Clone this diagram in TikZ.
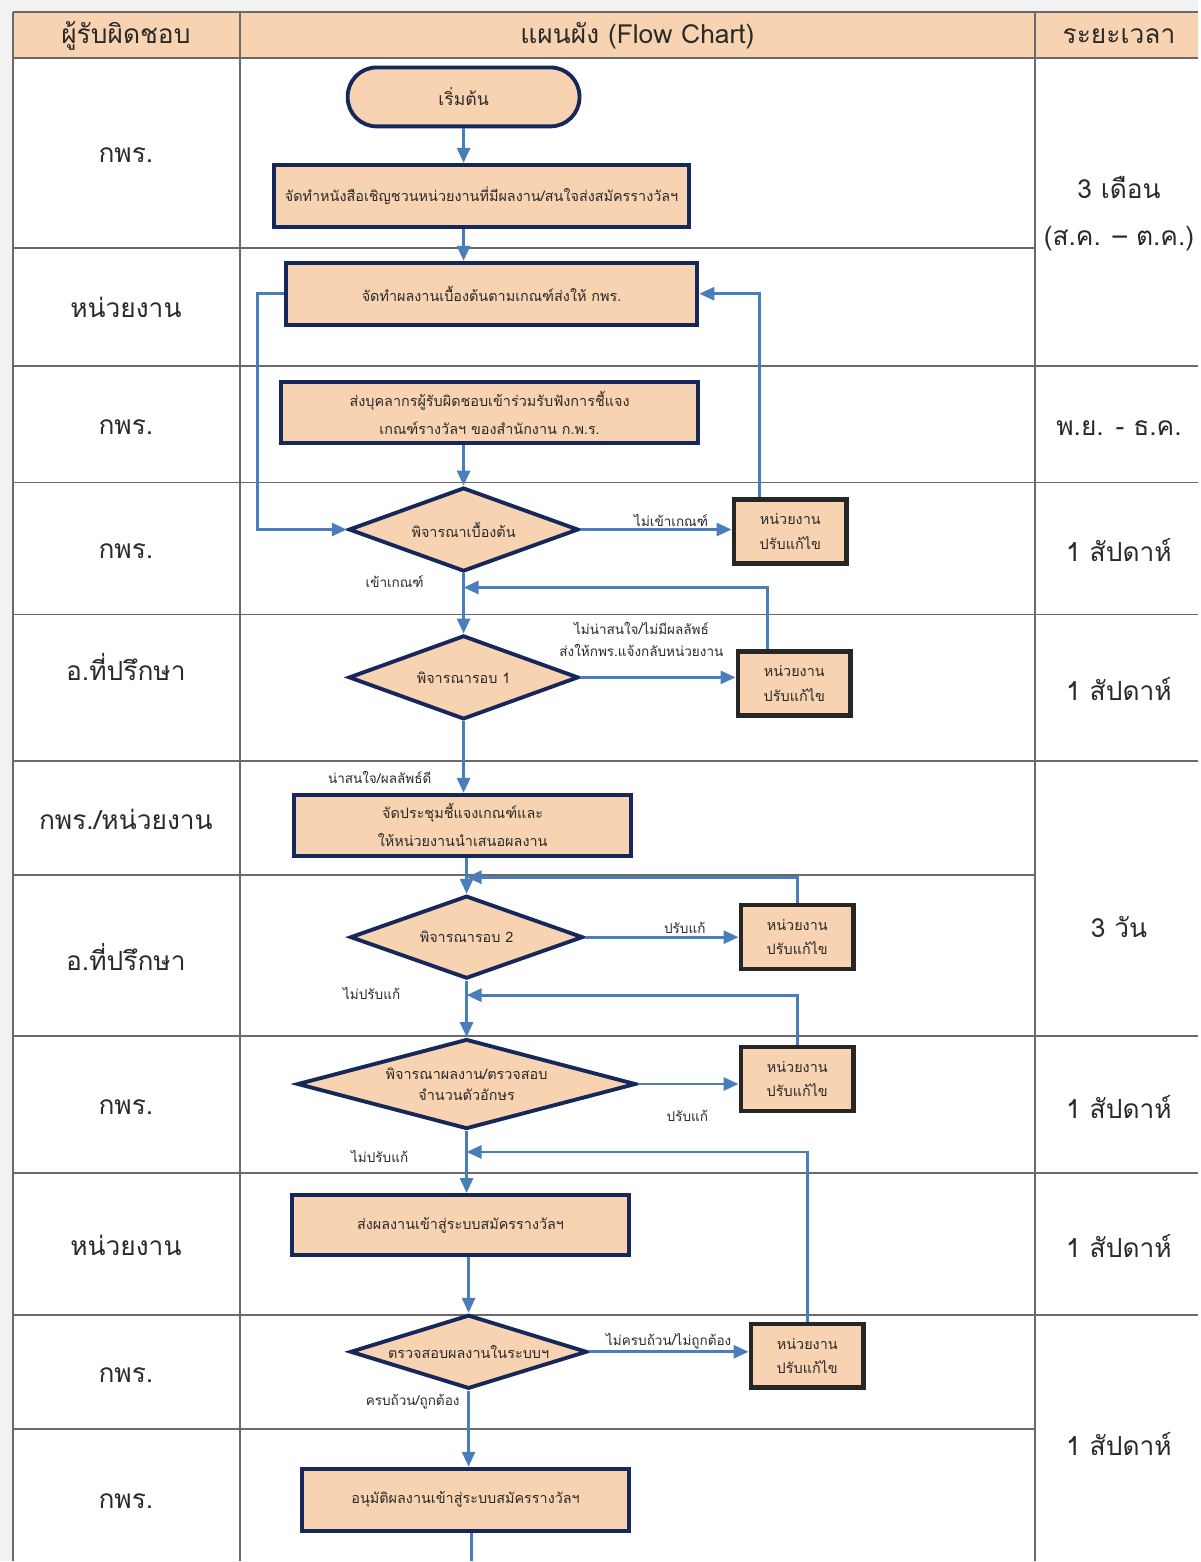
\documentclass[tikz,border=0pt]{standalone}
\usepackage{fontspec}
\setmainfont[Script=Thai]{Loma}
\usetikzlibrary{shapes.geometric,arrows.meta}
\definecolor{peach}{HTML}{F8D3B1}
\definecolor{navy}{HTML}{16275A}
\definecolor{flow}{HTML}{4A7EBB}
\definecolor{rule}{HTML}{6A6A6A}
\definecolor{page}{HTML}{F2F2F2}
\definecolor{ink}{HTML}{2A2A2A}
\tikzset{
  stepbox/.style={draw=navy, fill=peach, line width=2.2pt, inner sep=0pt, align=center,
    text=ink, font=\fontsize{8.2}{16}\selectfont},
  fixbox/.style={draw=black!85, fill=peach, line width=2.6pt, inner sep=0pt, align=center,
    text=ink, minimum width=22.6mm, minimum height=12.8mm, font=\fontsize{8.2}{14}\selectfont},
  choice/.style={diamond, draw=navy, fill=peach, line width=2.2pt, inner sep=0pt, aspect=3,
    text=ink, align=center, font=\fontsize{8.2}{14}\selectfont},
  flowline/.style={flow, line width=1.6pt, -{Triangle[length=3mm,width=2.6mm]}},
  lbl/.style={font=\fontsize{7.7}{13}\selectfont, text=ink, inner sep=1pt, align=center},
  cell/.style={font=\fontsize{15}{27}\selectfont, text=ink, align=center},
}
\begin{document}
\begin{tikzpicture}[x=0.2mm, y=-0.2mm]
\fill[page] (0,0) rectangle (1199,1562);
\fill[white] (13,12) rectangle (1199,1562);
\fill[peach] (13,12) rectangle (1199,58);
\draw[rule, line width=0.35mm] (13,12) -- (1199,12);
\foreach \x in {13,240,1036}
  \draw[rule, line width=0.35mm] (\x,12) -- (\x,1562);
\foreach \y in {58,366,483,615,762,1037,1174,1316}
  \draw[rule, line width=0.35mm] (13,\y) -- (1199,\y);
\foreach \y in {248,876,1430}
  \draw[rule, line width=0.35mm] (13,\y) -- (1036,\y);

\node[cell] (hwho) at (126,36) {ผู้รับผิดชอบ};
\node[cell] (hchart) at (638,36) {แผนผัง (Flow Chart)};
\node[cell] (htime) at (1120,36) {ระยะเวลา};

\foreach \y/\t [count=\i] in {155/{กพร.}, 308/{หน่วยงาน}, 428/{กพร.}, 552/{กพร.},
    668/{อ.ที่ปรึกษา}, 820/{กพร./หน่วยงาน}, 958/{อ.ที่ปรึกษา}, 1108/{กพร.},
    1246/{หน่วยงาน}, 1376/{กพร.}, 1503/{กพร.}}
  \node[cell] (who\i) at (126,\y) {\t};

\node[cell] (t1) at (1120,214) {3 เดือน\\(ส.ค. – ต.ค.)};
\node[cell] (t2) at (1120,428) {พ.ย. - ธ.ค.};
\node[cell] (t3) at (1120,551) {1 สัปดาห์};
\node[cell] (t4) at (1120,690) {1 สัปดาห์};
\node[cell] (t5) at (1120,928) {3 วัน};
\node[cell] (t6) at (1120,1108) {1 สัปดาห์};
\node[cell] (t7) at (1120,1247) {1 สัปดาห์};
\node[cell] (t8) at (1120,1445) {1 สัปดาห์};

\node[stepbox, rounded corners=5.8mm, minimum width=46.4mm, minimum height=11.8mm,
  font=\fontsize{10}{12}\selectfont] (start) at (464,97) {เริ่มต้น};
\node[stepbox, minimum width=83.2mm, minimum height=12.4mm] (invite) at (482,196)
  {จัดทำหนังสือเชิญชวนหน่วยงานที่มีผลงาน/สนใจส่งสมัครรางวัลฯ};
\node[stepbox, minimum width=82.4mm, minimum height=12.4mm] (draft) at (492,294)
  {จัดทำผลงานเบื้องต้นตามเกณฑ์ส่งให้ กพร.};
\node[stepbox, minimum width=83.4mm, minimum height=12.2mm] (brief) at (490,413)
  {ส่งบุคลากรผู้รับผิดชอบเข้าร่วมรับฟังการชี้แจง\\เกณฑ์รางวัลฯ ของสำนักงาน ก.พ.ร.};
\node[choice, minimum width=46mm, minimum height=16.8mm] (check0) at (464,530) {พิจารณาเบื้องต้น};
\node[fixbox] (fix1) at (791,532) {หน่วยงาน\\ปรับแก้ไข};
\node[choice, minimum width=46mm, minimum height=16.8mm] (check1) at (464,678) {พิจารณารอบ 1};
\node[fixbox] (fix2) at (795,684) {หน่วยงาน\\ปรับแก้ไข};
\node[stepbox, minimum width=67.4mm, minimum height=12.2mm] (meet) at (463,826)
  {จัดประชุมชี้แจงเกณฑ์และ\\ให้หน่วยงานนำเสนอผลงาน};
\node[choice, minimum width=46.6mm, minimum height=16.6mm] (check2) at (467,938) {พิจารณารอบ 2};
\node[fixbox] (fix3) at (798,938) {หน่วยงาน\\ปรับแก้ไข};
\node[choice, minimum width=67.8mm, minimum height=18mm, font=\fontsize{8.2}{12}\selectfont]
  (check3) at (467,1085) {พิจารณาผลงาน/ตรวจสอบ\\จำนวนตัวอักษร};
\node[fixbox] (fix4) at (798,1080) {หน่วยงาน\\ปรับแก้ไข};
\node[stepbox, minimum width=67.4mm, minimum height=12mm] (submit) at (461,1226)
  {ส่งผลงานเข้าสู่ระบบสมัครรางวัลฯ};
\node[choice, minimum width=47.4mm, minimum height=14.8mm] (check4) at (469,1353) {ตรวจสอบผลงานในระบบฯ};
\node[fixbox] (fix5) at (808,1357) {หน่วยงาน\\ปรับแก้ไข};
\node[stepbox, minimum width=65.4mm, minimum height=12.4mm] (approve) at (466,1501)
  {อนุมัติผลงานเข้าสู่ระบบสมัครรางวัลฯ};

\coordinate (j1) at (464,588);
\coordinate (j2) at (467,878);
\coordinate (j3) at (467,996);
\coordinate (j4) at (467,1153);
\coordinate (out) at (472,1562);

\path [flowline]
    (start) edge (start |- invite.north)
    (invite.south -| start) edge (draft.north -| start)
    (brief.south -| check0) edge (check0)
    (check0) edge (check1)
    (check0.east) edge node[lbl, above, pos=0.6] {ไม่เข้าเกณฑ์} (fix1.west |- check0.east)
    (check1.east) edge (fix2.west |- check1.east)
    (check1) edge (check1 |- meet.north)
    (meet.south -| check2) edge (check2)
    (check2.east) edge node[lbl, above, pos=0.65] {ปรับแก้} (fix3.west |- check2.east)
    (check2) edge (check3)
    (check3.east) edge (fix4.west |- check3.east)
    (check3) edge (check3 |- submit.north)
    (submit.south -| check4) edge (check4)
    (check4.east) edge node[lbl, above, pos=0.5] {ไม่ครบถ้วน/ไม่ถูกต้อง} (fix5.west |- check4.east)
    (check4) edge (check4 |- approve.north);
\draw[flowline] (draft.west) -- ++(-26,0) |- (check0.west);
\draw[flowline] ([xshift=-6.2mm]fix1.north) |- (draft.east);
\draw[flowline] ([xshift=-5.4mm]fix2.north) |- (j1);
\draw[flowline] (fix3.north) |- (j2);
\draw[flowline] (fix4.north) |- (j3);
\draw[flowline] (fix5.north) |- (j4);
\draw[flow, line width=1.6pt] (approve.south -| out) -- (out);

\node[lbl] (yes0) at (395,582) {เข้าเกณฑ์};
\node[lbl] (no1) at (642,640) {ไม่น่าสนใจ/ไม่มีผลลัพธ์\\ส่งให้กพร.แจ้งกลับหน่วยงาน};
\node[lbl] (yes1) at (380,778) {น่าสนใจ/ผลลัพธ์ดี};
\node[lbl] (no2) at (372,994) {ไม่ปรับแก้};
\node[lbl] (fix3lbl) at (688,1117) {ปรับแก้};
\node[lbl] (no3) at (380,1157) {ไม่ปรับแก้};
\node[lbl] (yes4) at (413,1403) {ครบถ้วน/ถูกต้อง};
\end{tikzpicture}
\end{document}
